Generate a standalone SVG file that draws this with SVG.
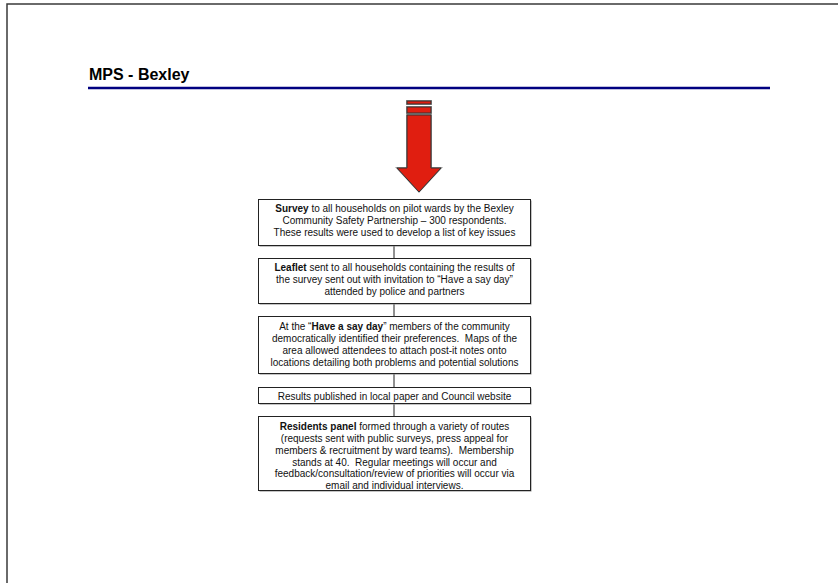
<svg xmlns="http://www.w3.org/2000/svg" width="838" height="583" viewBox="0 0 838 583" xml:space="preserve">
  <defs>
    <style>
      .frame { stroke: #3a3a3a; stroke-width: 1.5; fill: none; }
      .title { font-family: "Liberation Sans", Arial, sans-serif; font-size: 16px; font-weight: bold; fill: #000; }
      .rule { stroke: #000080; stroke-width: 2.5; }
      .box { fill: #fff; stroke: #222; stroke-width: 1; }
      .shadow { fill: #8a8a8a; }
      .txt { font-family: "Liberation Sans", Arial, sans-serif; font-size: 10px; fill: #111; text-anchor: middle; white-space: pre; }
      .b { font-weight: bold; }
      .conn { stroke: #222; stroke-width: 1; fill: none; }
      .red { fill: #e01e10; stroke: #333; stroke-width: 1; }
      .redshadow { fill: #9a9a9a; }
    </style>
  </defs>

  <rect width="838" height="583" fill="#fff"/>
  <!-- page frame -->
  <path class="frame" d="M7 583 V4 H838"/>

  <!-- heading -->
  <text class="title" x="89" y="80">MPS - Bexley</text>
  <line class="rule" x1="88" y1="88" x2="770" y2="88"/>

  <!-- downward arrow -->
  <g id="arrow">
    <rect class="redshadow" x="406" y="100" width="26" height="5"/>
    <rect class="redshadow" x="406" y="106" width="26" height="8"/>
    <path class="redshadow" d="M406 114 H432 V167 H443 L419 193 L395 167 H406 Z"/>
    <rect class="red" x="407" y="101" width="24" height="3"/>
    <rect class="red" x="407" y="107" width="24" height="6"/>
    <path class="red" d="M407 115 H431 V168 H441 L419 192 L397 168 H407 Z"/>
  </g>

  <!-- connectors -->
  <g id="connectors">
    <line class="conn" x1="394" y1="245" x2="394" y2="258"/>
    <line class="conn" x1="394" y1="303" x2="394" y2="316"/>
    <line class="conn" x1="394" y1="373" x2="394" y2="387"/>
    <line class="conn" x1="394" y1="403" x2="394" y2="416"/>
  </g>

  <g id="survey">
    <rect class="shadow" x="259.5" y="200.5" width="272" height="46"/>
    <rect class="box" x="258.5" y="199.5" width="272" height="46"/>
    <text class="txt" x="394.5" y="212"><tspan class="b">Survey</tspan> to all households on pilot wards by the Bexley</text>
    <text class="txt" x="394.5" y="224">Community Safety Partnership – 300 respondents.</text>
    <text class="txt" x="394.5" y="236">These results were used to develop a list of key issues</text>
  </g>

  <g id="leaflet">
    <rect class="shadow" x="259.5" y="259.5" width="272" height="45"/>
    <rect class="box" x="258.5" y="258.5" width="272" height="45"/>
    <text class="txt" x="394.5" y="271"><tspan class="b">Leaflet</tspan> sent to all households containing the results of</text>
    <text class="txt" x="394.5" y="283">the survey sent out with invitation to “Have a say day”</text>
    <text class="txt" x="394.5" y="295">attended by police and partners</text>
  </g>

  <g id="sayday">
    <rect class="shadow" x="259.5" y="317.5" width="272" height="57"/>
    <rect class="box" x="258.5" y="316.5" width="272" height="57"/>
    <text class="txt" x="394.5" y="330">At the “<tspan class="b">Have a say day</tspan>” members of the community</text>
    <text class="txt" x="394.5" y="342">democratically identified their preferences.  Maps of the</text>
    <text class="txt" x="394.5" y="354">area allowed attendees to attach post-it notes onto</text>
    <text class="txt" x="394.5" y="366">locations detailing both problems and potential solutions</text>
  </g>

  <g id="published">
    <rect class="shadow" x="259.5" y="388.5" width="272" height="16"/>
    <rect class="box" x="258.5" y="387.5" width="272" height="16"/>
    <text class="txt" x="394.5" y="399.5">Results published in local paper and Council website</text>
  </g>

  <g id="panel">
    <rect class="shadow" x="259.5" y="417.5" width="272" height="74"/>
    <rect class="box" x="258.5" y="416.5" width="272" height="74"/>
    <text class="txt" x="394.5" y="430"><tspan class="b">Residents panel</tspan> formed through a variety of routes</text>
    <text class="txt" x="394.5" y="442">(requests sent with public surveys, press appeal for</text>
    <text class="txt" x="394.5" y="454">members &amp; recruitment by ward teams).  Membership</text>
    <text class="txt" x="394.5" y="465.5">stands at 40.  Regular meetings will occur and</text>
    <text class="txt" x="394.5" y="477">feedback/consultation/review of priorities will occur via</text>
    <text class="txt" x="394.5" y="489">email and individual interviews.</text>
  </g>
</svg>
